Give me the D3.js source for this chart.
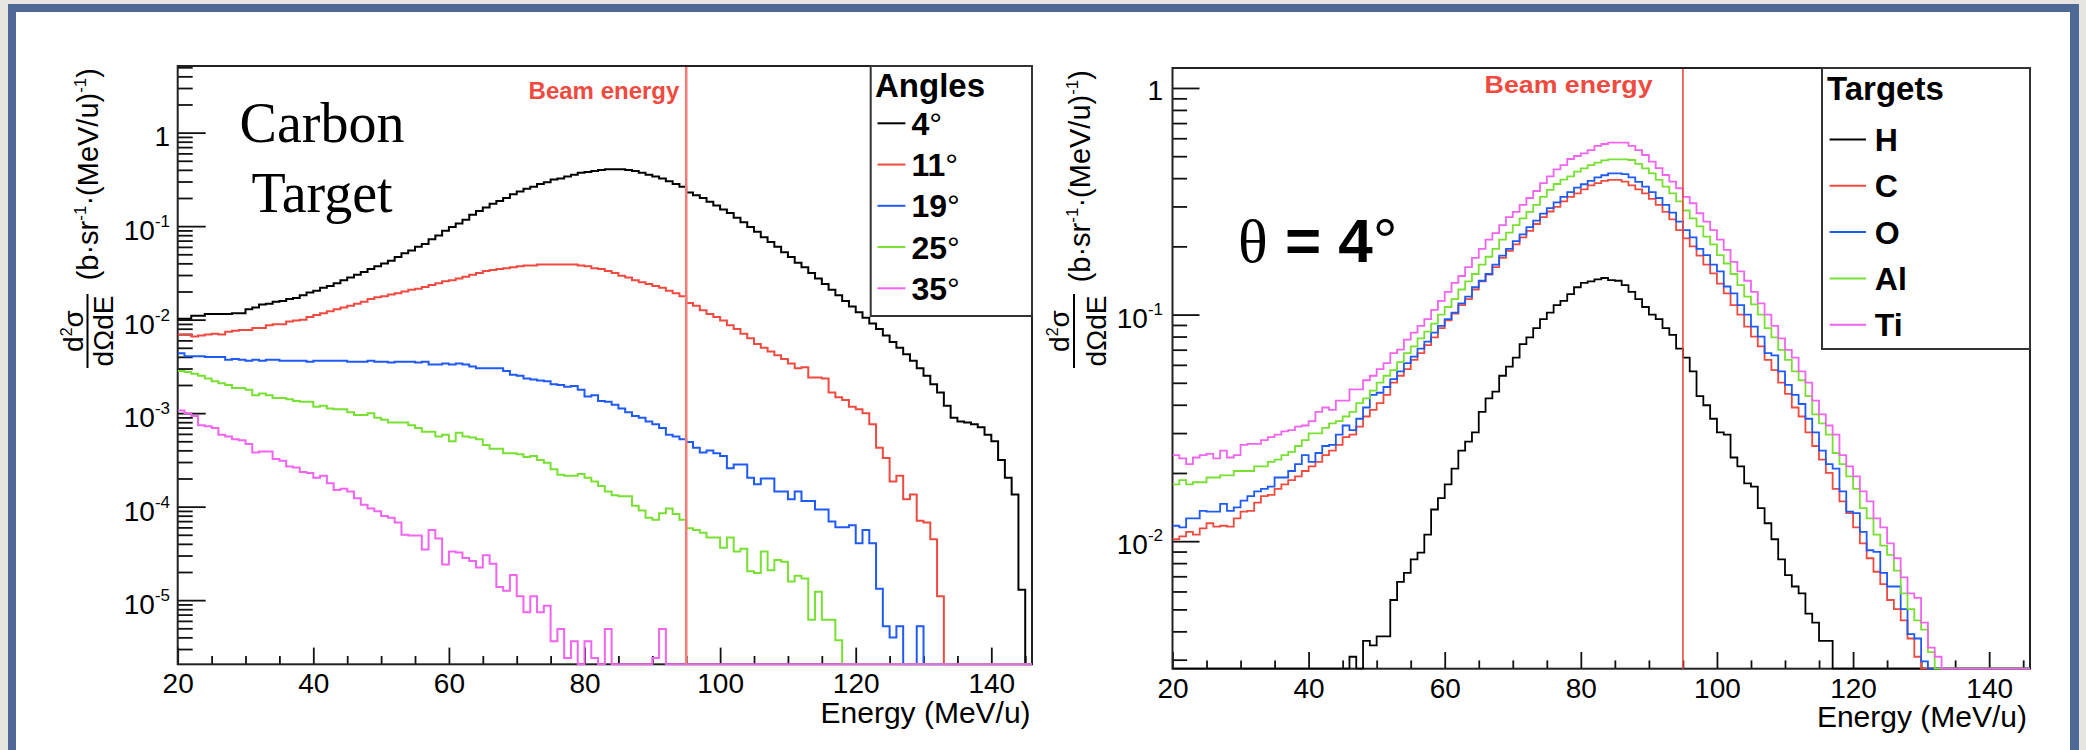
<!DOCTYPE html>
<html><head><meta charset="utf-8">
<script src="https://cdn.jsdelivr.net/npm/d3@7"></script>
<style>
html,body{margin:0;padding:0;background:#e8e5e0;}
svg{display:block;}
</style></head><body>
<svg id="c" width="2086" height="750"></svg>
<script>
// ---------------- DATA (1 MeV/u bins, first bin starts at 20 MeV/u) ----------------
const binStart = 20, binWidth = 1;
const xMin = 20, xMax = 146;
const beamEnergy = 95;
const xTickValues = [20, 40, 60, 80, 100, 120, 140];
const leftYTickExps = [0, -1, -2, -3, -4, -5];
const rightYTickExps = [0, -1, -2];
const angleLabels = ["4", "11", "19", "25", "35"];
const targetLabels = ["H", "C", "O", "Al", "Ti"];

// Carbon target, angles
const angle4 = [
1.02e-2,1.02e-2,1.10e-2,1.10e-2,1.15e-2,1.15e-2,1.15e-2,1.15e-2,1.17e-2,1.17e-2,
1.29e-2,1.35e-2,1.45e-2,1.48e-2,1.55e-2,1.58e-2,1.66e-2,1.70e-2,1.82e-2,1.95e-2,
2.04e-2,2.19e-2,2.29e-2,2.45e-2,2.63e-2,2.82e-2,3.02e-2,3.24e-2,3.47e-2,3.72e-2,
3.98e-2,4.27e-2,4.68e-2,5.13e-2,5.50e-2,6.03e-2,6.46e-2,7.24e-2,7.94e-2,8.91e-2,
9.77e-2,1.07e-1,1.17e-1,1.32e-1,1.45e-1,1.58e-1,1.74e-1,1.86e-1,2.00e-1,2.19e-1,
2.34e-1,2.51e-1,2.63e-1,2.82e-1,2.95e-1,3.16e-1,3.24e-1,3.39e-1,3.55e-1,3.72e-1,
3.80e-1,3.89e-1,3.98e-1,4.07e-1,4.07e-1,4.07e-1,3.98e-1,3.89e-1,3.72e-1,3.55e-1,
3.39e-1,3.24e-1,3.02e-1,2.82e-1,2.63e-1,2.29e-1,2.14e-1,2.00e-1,1.82e-1,1.66e-1,
1.51e-1,1.38e-1,1.23e-1,1.10e-1,9.77e-2,8.71e-2,7.59e-2,6.76e-2,6.03e-2,5.25e-2,
4.68e-2,4.07e-2,3.63e-2,3.16e-2,2.75e-2,2.40e-2,2.09e-2,1.82e-2,1.58e-2,1.38e-2,
1.20e-2,1.05e-2,9.12e-3,7.94e-3,6.76e-3,5.75e-3,5.01e-3,4.27e-3,3.63e-3,3.02e-3,
2.51e-3,2.04e-3,1.66e-3,1.20e-3,8.91e-4,8.13e-4,7.94e-4,7.59e-4,7.08e-4,5.89e-4,
5.01e-4,3.16e-4,2.04e-4,1.35e-4,1.29e-5,0];
const angle11 = [
6.92e-3,6.92e-3,6.61e-3,6.76e-3,6.92e-3,7.08e-3,6.92e-3,7.41e-3,7.59e-3,7.76e-3,
7.76e-3,8.13e-3,8.13e-3,8.71e-3,8.91e-3,8.91e-3,9.55e-3,9.77e-3,1.00e-2,1.07e-2,
1.12e-2,1.17e-2,1.23e-2,1.29e-2,1.35e-2,1.41e-2,1.48e-2,1.55e-2,1.66e-2,1.74e-2,
1.78e-2,1.86e-2,1.91e-2,2.00e-2,2.09e-2,2.14e-2,2.24e-2,2.34e-2,2.45e-2,2.57e-2,
2.63e-2,2.75e-2,2.88e-2,3.02e-2,3.16e-2,3.31e-2,3.39e-2,3.47e-2,3.55e-2,3.63e-2,
3.72e-2,3.80e-2,3.80e-2,3.89e-2,3.89e-2,3.89e-2,3.89e-2,3.89e-2,3.89e-2,3.80e-2,
3.72e-2,3.55e-2,3.47e-2,3.31e-2,3.16e-2,2.95e-2,2.82e-2,2.63e-2,2.51e-2,2.40e-2,
2.29e-2,2.19e-2,2.04e-2,1.91e-2,1.78e-2,1.51e-2,1.41e-2,1.26e-2,1.15e-2,1.07e-2,
9.77e-3,8.71e-3,7.94e-3,7.08e-3,6.31e-3,5.50e-3,5.01e-3,4.57e-3,4.17e-3,3.80e-3,
3.39e-3,3.02e-3,3.09e-3,2.40e-3,2.40e-3,2.34e-3,1.66e-3,1.48e-3,1.38e-3,1.17e-3,
1.10e-3,1.00e-3,7.59e-4,4.27e-4,3.31e-4,1.86e-4,2.14e-4,1.20e-4,1.35e-4,7.08e-5,
6.76e-5,4.47e-5,1.10e-5,0,0,0,0,0,0,0,
0,0,0,0,0,0];
const angle19 = [
4.37e-3,4.07e-3,4.07e-3,4.07e-3,3.98e-3,3.98e-3,3.98e-3,3.72e-3,3.80e-3,3.72e-3,
3.63e-3,3.72e-3,3.63e-3,3.72e-3,3.72e-3,3.63e-3,3.63e-3,3.63e-3,3.63e-3,3.55e-3,
3.63e-3,3.63e-3,3.63e-3,3.63e-3,3.63e-3,3.55e-3,3.55e-3,3.55e-3,3.63e-3,3.55e-3,
3.55e-3,3.47e-3,3.55e-3,3.55e-3,3.55e-3,3.47e-3,3.55e-3,3.31e-3,3.31e-3,3.39e-3,
3.31e-3,3.39e-3,3.31e-3,3.16e-3,3.02e-3,3.02e-3,3.02e-3,3.02e-3,2.82e-3,2.57e-3,
2.51e-3,2.34e-3,2.29e-3,2.24e-3,2.19e-3,2.04e-3,2.00e-3,1.91e-3,1.95e-3,1.78e-3,
1.51e-3,1.55e-3,1.35e-3,1.32e-3,1.23e-3,1.12e-3,1.02e-3,9.33e-4,8.91e-4,8.13e-4,
7.59e-4,6.92e-4,5.89e-4,5.62e-4,5.25e-4,4.90e-4,4.27e-4,3.80e-4,3.98e-4,3.72e-4,
3.47e-4,2.57e-4,2.82e-4,2.82e-4,2.04e-4,1.74e-4,2.00e-4,2.00e-4,1.45e-4,1.45e-4,
1.20e-4,1.45e-4,1.15e-4,1.15e-4,9.33e-5,9.33e-5,6.92e-5,6.03e-5,6.03e-5,6.31e-5,
4.07e-5,5.62e-5,4.07e-5,1.32e-5,5.25e-6,3.98e-6,5.25e-6,0,0,5.25e-6,
0,0,0,0,0,0,0,0,0,0,
0,0,0,0,0,0];
const angle25 = [
2.82e-3,2.75e-3,2.63e-3,2.51e-3,2.34e-3,2.19e-3,2.09e-3,2.00e-3,1.86e-3,1.86e-3,
1.78e-3,1.55e-3,1.62e-3,1.55e-3,1.45e-3,1.45e-3,1.41e-3,1.35e-3,1.32e-3,1.32e-3,
1.17e-3,1.20e-3,1.12e-3,1.10e-3,1.10e-3,1.02e-3,9.55e-4,9.55e-4,1.00e-3,8.91e-4,
8.51e-4,7.94e-4,7.94e-4,7.94e-4,7.41e-4,6.92e-4,6.31e-4,6.31e-4,5.62e-4,5.89e-4,
5.01e-4,6.17e-4,5.62e-4,5.50e-4,5.25e-4,4.57e-4,4.17e-4,4.17e-4,3.72e-4,3.72e-4,
3.63e-4,3.39e-4,3.47e-4,3.16e-4,2.95e-4,2.51e-4,2.19e-4,2.14e-4,2.14e-4,2.24e-4,
2.04e-4,1.86e-4,1.66e-4,1.45e-4,1.32e-4,1.29e-4,1.29e-4,1.02e-4,9.12e-5,7.59e-5,
7.24e-5,8.51e-5,9.55e-5,8.32e-5,7.24e-5,5.89e-5,5.62e-5,5.25e-5,4.68e-5,4.68e-5,
3.63e-5,4.68e-5,3.31e-5,3.55e-5,2.04e-5,1.95e-5,3.31e-5,2.09e-5,2.69e-5,2.57e-5,
1.58e-5,1.82e-5,1.70e-5,6.17e-6,1.23e-5,6.17e-6,6.17e-6,3.72e-6,0,0,
0,0,0,0,0,0,0,0,0,0,
0,0,0,0,0,0,0,0,0,0,
0,0,0,0,0,0];
const angle35 = [
1.07e-3,1.00e-3,9.33e-4,7.41e-4,7.24e-4,6.92e-4,5.89e-4,5.62e-4,5.25e-4,5.13e-4,
4.68e-4,3.80e-4,3.89e-4,3.89e-4,3.24e-4,3.09e-4,2.69e-4,2.63e-4,2.34e-4,2.29e-4,
2.04e-4,2.14e-4,1.78e-4,1.51e-4,1.55e-4,1.45e-4,1.23e-4,1.05e-4,9.55e-5,8.91e-5,
7.94e-5,7.59e-5,6.76e-5,5.01e-5,4.90e-5,4.90e-5,3.47e-5,5.62e-5,4.57e-5,2.40e-5,
3.31e-5,3.24e-5,2.82e-5,2.63e-5,2.24e-5,3.02e-5,2.45e-5,1.38e-5,1.26e-5,1.86e-5,
1.10e-5,7.41e-6,1.10e-5,7.41e-6,8.71e-6,3.63e-6,4.90e-6,2.40e-6,3.63e-6,0,
3.63e-6,2.40e-6,0,4.90e-6,0,0,0,0,0,0,
2.40e-6,4.90e-6,0,0,0,0,0,0,0,0,
0,0,0,0,0,0,0,0,0,0,
0,0,0,0,0,0,0,0,0,0,
0,0,0,0,0,0,0,0,0,0,
0,0,0,0,0,0,0,0,0,0,
0,0,0,0,0,0];

// theta = 4 deg, targets
const targetH = [
0,0,0,0,0,0,0,0,0,0,
0,0,0,0,0,0,0,0,0,0,
0,0,0,0,0,0,3.09e-3,0,3.63e-3,3.47e-3,
3.80e-3,3.80e-3,5.50e-3,6.61e-3,7.24e-3,8.32e-3,8.91e-3,1.07e-2,1.38e-2,1.55e-2,
1.78e-2,2.09e-2,2.51e-2,2.75e-2,3.02e-2,3.72e-2,4.27e-2,4.57e-2,5.37e-2,5.89e-2,
6.46e-2,7.41e-2,7.94e-2,8.71e-2,9.55e-2,1.02e-1,1.10e-1,1.15e-1,1.23e-1,1.32e-1,
1.38e-1,1.40e-1,1.43e-1,1.45e-1,1.42e-1,1.41e-1,1.35e-1,1.26e-1,1.17e-1,1.08e-1,
1.00e-1,9.55e-2,8.71e-2,8.13e-2,7.08e-2,6.46e-2,5.62e-2,4.37e-2,3.98e-2,3.47e-2,
3.02e-2,2.95e-2,2.34e-2,2.14e-2,1.80e-2,1.74e-2,1.40e-2,1.20e-2,1.02e-2,8.32e-3,
7.08e-3,6.31e-3,5.89e-3,4.79e-3,4.37e-3,3.63e-3,3.63e-3,0,0,0,
0,0,0,0,0,0,0,0,0,0,
0,0,0,0,0,0,0,0,0,0,
0,0,0,0,0,0];
const targetC = [
1.02e-2,1.05e-2,1.10e-2,1.07e-2,1.14e-2,1.20e-2,1.16e-2,1.17e-2,1.16e-2,1.26e-2,
1.35e-2,1.36e-2,1.48e-2,1.58e-2,1.60e-2,1.70e-2,1.78e-2,1.86e-2,1.93e-2,2.04e-2,
2.14e-2,2.24e-2,2.40e-2,2.51e-2,2.66e-2,2.88e-2,2.95e-2,3.20e-2,3.55e-2,3.80e-2,
4.07e-2,4.42e-2,5.01e-2,5.37e-2,5.75e-2,6.31e-2,6.76e-2,7.33e-2,7.94e-2,8.71e-2,
9.44e-2,1.01e-1,1.10e-1,1.17e-1,1.29e-1,1.40e-1,1.50e-1,1.62e-1,1.78e-1,1.91e-1,
2.04e-1,2.19e-1,2.34e-1,2.51e-1,2.69e-1,2.85e-1,2.99e-1,3.16e-1,3.31e-1,3.43e-1,
3.57e-1,3.72e-1,3.80e-1,3.89e-1,3.93e-1,3.93e-1,3.86e-1,3.72e-1,3.57e-1,3.43e-1,
3.24e-1,3.05e-1,2.84e-1,2.63e-1,2.36e-1,2.17e-1,2.00e-1,1.82e-1,1.66e-1,1.52e-1,
1.37e-1,1.24e-1,1.10e-1,1.00e-1,8.85e-2,8.00e-2,7.24e-2,6.31e-2,5.69e-2,5.01e-2,
4.47e-2,3.89e-2,3.55e-2,3.02e-2,2.63e-2,2.29e-2,2.00e-2,1.70e-2,1.50e-2,1.33e-2,
1.15e-2,9.77e-3,8.41e-3,7.33e-3,6.46e-3,5.50e-3,5.01e-3,4.47e-3,3.72e-3,3.09e-3,
0,0,0,0,0,0,0,0,0,0,
0,0,0,0,0,0];
const targetO = [
1.17e-2,1.15e-2,1.26e-2,1.26e-2,1.36e-2,1.35e-2,1.35e-2,1.46e-2,1.36e-2,1.41e-2,
1.51e-2,1.58e-2,1.66e-2,1.70e-2,1.74e-2,1.91e-2,1.91e-2,2.04e-2,2.19e-2,2.40e-2,
2.24e-2,2.45e-2,2.63e-2,2.66e-2,2.95e-2,3.24e-2,3.09e-2,3.47e-2,3.89e-2,4.42e-2,
4.52e-2,4.79e-2,5.19e-2,5.62e-2,6.10e-2,6.52e-2,7.08e-2,7.59e-2,8.32e-2,8.91e-2,
9.55e-2,1.02e-1,1.12e-1,1.20e-1,1.32e-1,1.41e-1,1.51e-1,1.66e-1,1.82e-1,1.95e-1,
2.11e-1,2.26e-1,2.43e-1,2.60e-1,2.79e-1,2.95e-1,3.13e-1,3.31e-1,3.47e-1,3.63e-1,
3.76e-1,3.89e-1,4.03e-1,4.12e-1,4.20e-1,4.20e-1,4.17e-1,4.03e-1,3.85e-1,3.67e-1,
3.47e-1,3.27e-1,3.05e-1,2.82e-1,2.57e-1,2.36e-1,2.19e-1,1.95e-1,1.83e-1,1.66e-1,
1.55e-1,1.33e-1,1.24e-1,1.10e-1,1.00e-1,8.85e-2,8.00e-2,6.76e-2,6.61e-2,5.62e-2,
4.90e-2,4.42e-2,4.03e-2,3.47e-2,3.02e-2,2.51e-2,2.19e-2,2.09e-2,1.66e-2,1.35e-2,
1.33e-2,1.10e-2,9.12e-3,8.97e-3,7.24e-3,6.31e-3,6.31e-3,5.01e-3,3.89e-3,3.72e-3,
2.95e-3,0,0,0,0,0,0,0,0,0,
0,0,0,0,0,0];
const targetAl = [
1.78e-2,1.86e-2,1.78e-2,1.82e-2,1.82e-2,1.91e-2,1.91e-2,1.95e-2,1.95e-2,2.04e-2,
2.04e-2,2.04e-2,2.14e-2,2.14e-2,2.24e-2,2.29e-2,2.40e-2,2.48e-2,2.63e-2,2.79e-2,
2.99e-2,2.99e-2,3.16e-2,3.31e-2,3.39e-2,3.55e-2,3.72e-2,4.07e-2,4.27e-2,4.62e-2,
5.01e-2,5.37e-2,5.69e-2,6.17e-2,6.76e-2,7.24e-2,7.85e-2,8.41e-2,9.12e-2,1.00e-1,
1.08e-1,1.17e-1,1.29e-1,1.40e-1,1.51e-1,1.66e-1,1.80e-1,1.95e-1,2.14e-1,2.30e-1,
2.48e-1,2.66e-1,2.84e-1,3.05e-1,3.31e-1,3.55e-1,3.77e-1,3.94e-1,4.07e-1,4.27e-1,
4.42e-1,4.57e-1,4.68e-1,4.79e-1,4.84e-1,4.84e-1,4.84e-1,4.81e-1,4.62e-1,4.42e-1,
4.20e-1,3.93e-1,3.67e-1,3.43e-1,3.16e-1,2.88e-1,2.66e-1,2.45e-1,2.21e-1,2.04e-1,
1.83e-1,1.68e-1,1.51e-1,1.35e-1,1.20e-1,1.11e-1,1.00e-1,8.71e-2,7.94e-2,6.98e-2,
6.31e-2,5.62e-2,5.13e-2,4.37e-2,3.63e-2,3.31e-2,2.95e-2,2.45e-2,2.19e-2,1.93e-2,
1.70e-2,1.40e-2,1.26e-2,1.07e-2,9.55e-3,8.71e-3,7.41e-3,5.89e-3,5.01e-3,4.47e-3,
4.07e-3,3.24e-3,0,0,0,0,0,0,0,0,
0,0,0,0,0,0];
const targetTi = [
2.40e-2,2.32e-2,2.19e-2,2.34e-2,2.40e-2,2.43e-2,2.32e-2,2.51e-2,2.34e-2,2.40e-2,
2.66e-2,2.69e-2,2.69e-2,2.79e-2,2.88e-2,2.95e-2,3.05e-2,3.09e-2,3.20e-2,3.24e-2,
3.39e-2,3.72e-2,3.89e-2,3.80e-2,4.17e-2,4.17e-2,4.68e-2,4.68e-2,5.13e-2,5.37e-2,
5.75e-2,6.10e-2,6.76e-2,7.00e-2,7.76e-2,8.32e-2,8.91e-2,9.55e-2,1.05e-1,1.15e-1,
1.26e-1,1.38e-1,1.48e-1,1.62e-1,1.78e-1,1.95e-1,2.14e-1,2.29e-1,2.48e-1,2.69e-1,
2.84e-1,3.05e-1,3.27e-1,3.51e-1,3.80e-1,4.07e-1,4.37e-1,4.57e-1,4.86e-1,5.01e-1,
5.15e-1,5.32e-1,5.55e-1,5.66e-1,5.74e-1,5.74e-1,5.74e-1,5.55e-1,5.32e-1,5.06e-1,
4.73e-1,4.43e-1,4.13e-1,3.86e-1,3.61e-1,3.31e-1,3.10e-1,2.80e-1,2.57e-1,2.36e-1,
2.14e-1,1.93e-1,1.71e-1,1.55e-1,1.41e-1,1.26e-1,1.12e-1,1.00e-1,8.91e-2,7.85e-2,
6.98e-2,6.46e-2,5.62e-2,5.01e-2,4.17e-2,3.63e-2,3.24e-2,2.95e-2,2.40e-2,2.14e-2,
1.93e-2,1.66e-2,1.50e-2,1.26e-2,1.15e-2,9.77e-3,8.41e-3,6.92e-3,5.89e-3,5.62e-3,
4.37e-3,3.39e-3,3.09e-3,0,0,0,0,0,0,0,
0,0,0,0,0,0];

// ---------------- DRAWING ----------------
const SANS = "'Liberation Sans', Arial, Helvetica, sans-serif";
const SERIF = "'Liberation Serif', 'Times New Roman', serif";
const COL = { black: "#000000", red: "#f04a40", blue: "#1f5af5", green: "#78e032", magenta: "#f064f0" };

const svg = d3.select("#c");
svg.append("rect").attr("width", 2086).attr("height", 750).attr("fill", "#e8e5e0");
svg.append("rect").attr("x", 8).attr("y", 4).attr("width", 2071).attr("height", 760).attr("fill", "#4e6996");
svg.append("rect").attr("x", 16).attr("y", 12).attr("width", 2054).attr("height", 760).attr("fill", "#ffffff");

function drawPanel(p) {
  const x = d3.scaleLinear().domain([xMin, xMax]).range([p.left, p.right]);
  const y = d3.scaleLog().domain([p.yMin, p.yMax]).range([p.bottom, p.top]);
  const g = svg.append("g").attr("font-family", SANS);

  g.append("clipPath").attr("id", "clip" + p.id).append("rect")
    .attr("x", p.left).attr("y", p.top - 1).attr("width", p.right - p.left).attr("height", p.bottom - p.top + 2);

  // y ticks (inside the frame)
  const majors = p.yTickExps.map(e => Math.pow(10, e));
  const minors = [];
  d3.range(Math.floor(Math.log10(p.yMin)), Math.ceil(Math.log10(p.yMax)) + 1).forEach(d => {
    for (let m = 2; m <= 9; m++) { const v = m * Math.pow(10, d); if (v > p.yMin && v < p.yMax) minors.push(v); }
  });
  [[majors, p.yMajorLen], [minors, p.yMinorLen]].forEach(([vals, len]) => {
    const a = g.append("g").attr("transform", `translate(${p.left},0)`)
      .call(d3.axisRight(y).tickValues(vals).tickSize(len).tickFormat(""));
    a.select(".domain").remove();
    a.selectAll("line").attr("stroke", "#111").attr("stroke-width", 1.8);
  });

  // y tick labels
  p.yTickExps.forEach(e => {
    const yy = y(Math.pow(10, e));
    const t = g.append("text").attr("x", p.labelRight).attr("y", yy + p.labelDy)
      .attr("text-anchor", "end").attr("font-size", 28).attr("fill", "#000");
    if (e === 0) { t.attr("y", yy + p.labelDy - 1).text("1"); }
    else {
      t.append("tspan").text("10");
      t.append("tspan").attr("font-size", 17).attr("dy", -13).text(String(e));
    }
  });

  // x ticks
  const xa = g.append("g").attr("transform", `translate(0,${p.bottom})`)
    .call(d3.axisBottom(x).tickValues(xTickValues).tickSize(-16.7).tickPadding(9).tickFormat(d3.format("d")));
  xa.select(".domain").remove();
  xa.selectAll("line").attr("stroke", "#111").attr("stroke-width", 1.8);
  xa.selectAll("text").attr("font-size", 28).attr("font-family", SANS).attr("fill", "#000");
  const minorX = d3.range(xMin, xMax, 5).filter(v => xTickValues.indexOf(v) < 0);
  const xm = g.append("g").attr("transform", `translate(0,${p.bottom})`)
    .call(d3.axisBottom(x).tickValues(minorX).tickSize(-8.3).tickFormat(""));
  xm.select(".domain").remove();
  xm.selectAll("line").attr("stroke", "#111").attr("stroke-width", 1.8);

  // frame
  g.append("rect").attr("x", p.left).attr("y", p.top).attr("width", p.right - p.left).attr("height", p.bottom - p.top)
    .attr("fill", "none").attr("stroke", "#222").attr("stroke-width", 2);

  // histograms
  const line = d3.line().x(d => x(d[0])).y(d => y(Math.min(p.yMax, Math.max(d[1], p.yMin)))).curve(d3.curveStepAfter);
  const hg = g.append("g").attr("clip-path", `url(#clip${p.id})`);
  p.series.forEach(s => {
    const pts = s.values.map((v, i) => [binStart + i * binWidth, v]);
    pts.push([binStart + s.values.length * binWidth, s.values[s.values.length - 1]]);
    hg.append("path").attr("d", line(pts)).attr("fill", "none").attr("stroke", s.color)
      .attr("stroke-width", p.lineWidth).attr("stroke-linejoin", "miter");
  });

  // beam energy line and label
  g.append("line").attr("x1", x(beamEnergy)).attr("x2", x(beamEnergy)).attr("y1", p.top + 1).attr("y2", p.bottom)
    .attr("stroke", p.beamColor).attr("stroke-width", p.beamWidth);
  const bt = g.append("text").attr("x", p.beamTextX).attr("y", p.beamTextY).attr("font-size", 24)
    .attr("font-weight", "bold").attr("fill", COL.red).text("Beam energy");
  if (p.beamTextLen) bt.attr("textLength", p.beamTextLen).attr("lengthAdjust", "spacingAndGlyphs");

  // x title
  g.append("text").attr("x", p.xTitleRight).attr("y", p.xTitleY).attr("text-anchor", "end")
    .attr("font-size", 30).attr("fill", "#000").text("Energy (MeV/u)");

  // y title (rotated)
  const num = g.append("text").attr("transform", `translate(${p.numX},${p.fracY}) rotate(-90)`)
    .attr("text-anchor", "middle").attr("font-size", 28).attr("fill", "#000");
  num.append("tspan").text("d");
  num.append("tspan").attr("font-size", 16).attr("dy", -11).text("2");
  num.append("tspan").attr("dy", 11).text("σ");
  g.append("line").attr("x1", p.barX).attr("x2", p.barX).attr("y1", p.fracY - 37).attr("y2", p.fracY + 37)
    .attr("stroke", "#000").attr("stroke-width", 2);
  g.append("text").attr("transform", `translate(${p.denX},${p.fracY}) rotate(-90)`)
    .attr("text-anchor", "middle").attr("font-size", 28).attr("fill", "#000").text("dΩdE");
  const mt = g.append("text").attr("transform", `translate(${p.mainX},${p.top + 2}) rotate(-90)`)
    .attr("text-anchor", "end").attr("font-size", 29).attr("fill", "#000");
  mt.append("tspan").text("(b·sr");
  mt.append("tspan").attr("font-size", 17).attr("dy", -12).text("-1");
  mt.append("tspan").attr("dy", 12).text("·(MeV/u)");
  mt.append("tspan").attr("font-size", 17).attr("dy", -12).text("-1");
  mt.append("tspan").attr("dy", 12).text(")");

  // legend
  const L = p.legend;
  g.append("rect").attr("x", L.x0).attr("y", p.top).attr("width", L.x1 - L.x0).attr("height", L.y1 - p.top)
    .attr("fill", "#ffffff").attr("stroke", "#333").attr("stroke-width", 2);
  g.append("text").attr("x", L.titleX).attr("y", L.titleY).attr("font-size", 33).attr("font-weight", "bold")
    .attr("fill", "#000").text(L.title);
  p.series.forEach((s, i) => {
    const cy = L.firstY + i * L.step;
    g.append("line").attr("x1", L.lineX0).attr("x2", L.lineX1).attr("y1", cy).attr("y2", cy)
      .attr("stroke", s.color).attr("stroke-width", 2);
    const t = g.append("text").attr("x", L.labelX).attr("y", cy + 11.6).attr("font-size", 32)
      .attr("font-weight", "bold").attr("fill", "#000");
    t.append("tspan").text(s.label);
    if (L.degree) t.append("tspan").attr("font-weight", "normal").text("°");
  });
  return { x, y, g };
}

const seriesColors = [COL.black, COL.red, COL.blue, COL.green, COL.magenta];

drawPanel({
  id: "L", left: 177.7, right: 1032, top: 66, bottom: 664.3, yMin: 2.06e-6, yMax: 5.16,
  yTickExps: leftYTickExps, yMajorLen: 28, yMinorLen: 15, labelRight: 170, labelDy: 14,
  lineWidth: 2, beamColor: "#f27d76", beamWidth: 2.6,
  beamTextX: 528.6, beamTextY: 99.3, beamTextLen: null,
  xTitleRight: 1030.6, xTitleY: 723,
  numX: 83, barX: 87.5, denX: 113, fracY: 331, mainX: 97.5,
  series: [angle4, angle11, angle19, angle25, angle35].map((v, i) => ({ values: v, color: seriesColors[i], label: angleLabels[i] })),
  legend: { x0: 870.7, x1: 1032, y1: 316, title: "Angles", titleX: 875, titleY: 96.7,
    firstY: 123.3, step: 41.25, lineX0: 877.5, lineX1: 905.4, labelX: 911.4, degree: true }
});

drawPanel({
  id: "R", left: 1172.5, right: 2030, top: 68, bottom: 668.7, yMin: 2.737e-3, yMax: 1.225,
  yTickExps: rightYTickExps, yMajorLen: 27, yMinorLen: 14.6, labelRight: 1163, labelDy: 13,
  lineWidth: 1.8, beamColor: COL.red, beamWidth: 1.6,
  beamTextX: 1484.6, beamTextY: 93.3, beamTextLen: 168,
  xTitleRight: 2027, xTitleY: 726.7,
  numX: 1068.6, barX: 1074, denX: 1106, fracY: 331, mainX: 1090,
  series: [targetH, targetC, targetO, targetAl, targetTi].map((v, i) => ({ values: v, color: seriesColors[i], label: targetLabels[i] })),
  legend: { x0: 1822, x1: 2030, y1: 349, title: "Targets", titleX: 1827, titleY: 100,
    firstY: 139.5, step: 46.3, lineX0: 1829.6, lineX1: 1866, labelX: 1874.8, degree: false }
});

// annotations
const ann = svg.append("g");
const ct = ann.append("text").attr("font-family", SERIF).attr("font-size", 56).attr("text-anchor", "middle").attr("fill", "#000");
ct.append("tspan").attr("x", 322).attr("y", 141.7).text("Carbon");
ct.append("tspan").attr("x", 322).attr("y", 211.7).text("Target");

const th = ann.append("text").attr("x", 1238).attr("y", 262).attr("font-size", 62).attr("fill", "#000");
th.append("tspan").attr("font-family", SERIF).text("θ");
th.append("tspan").attr("font-family", SANS).attr("font-weight", "bold").text(" = 4");
th.append("tspan").attr("font-family", SANS).text("°");
</script>
</body></html>
